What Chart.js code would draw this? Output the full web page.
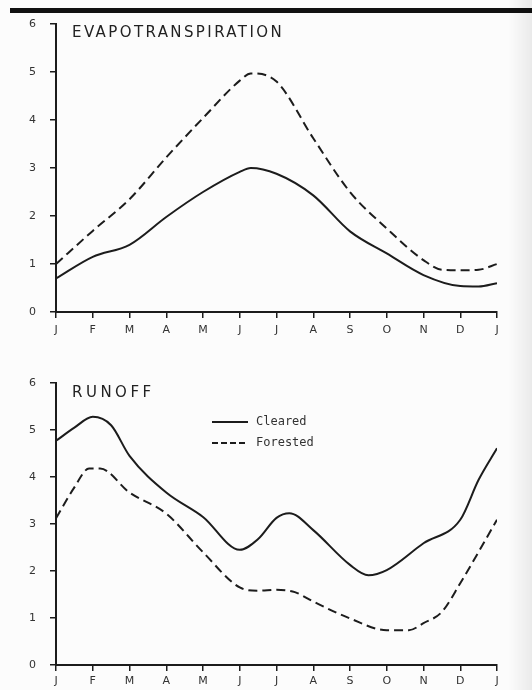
<!DOCTYPE html>
<html>
<head>
<meta charset="utf-8">
<script src="https://cdn.jsdelivr.net/npm/chart.js@4.4.1/dist/chart.umd.min.js"></script>
<style>
  body { margin: 0; background: #fcfcfc; }
  #page { position: relative; width: 532px; height: 690px; overflow: hidden; background: #fcfcfc; }
  .topbar { position: absolute; left: 10px; top: 8px; width: 522px; height: 5px; background: #111; }
  .edge { position: absolute; right: 0; top: 0; width: 24px; height: 690px;
          background: linear-gradient(to right, rgba(0,0,0,0), rgba(0,0,0,0.07)); }
  .title { position: absolute; font-family: 'DejaVu Sans'; font-size: 15px; line-height: 15px; color: #222; }
  canvas { position: absolute; left: 0; }
</style>
</head>
<body>
<div id="page">
  <div class="topbar"></div>
  <canvas id="etChart" style="top:0px" width="532" height="345"></canvas>
  <canvas id="roChart" style="top:360px" width="532" height="330"></canvas>
  <div class="title" style="left:72px; top:25px; letter-spacing:2.4px">EVAPOTRANSPIRATION</div>
  <div class="title" style="left:72px; top:385px; letter-spacing:3.5px">RUNOFF</div>
  <div class="edge"></div>
</div>
<script>
const months = ['J', 'F', 'M', 'A', 'M', 'J', 'J', 'A', 'S', 'O', 'N', 'D', 'J'];
const yTicks = [0, 1, 2, 3, 4, 5, 6];
const seriesNames = ['Cleared', 'Forested'];

// evapotranspiration (month position, value)
const etClearedX = [0, 1, 2, 3, 4, 5, 5.3, 6, 7, 8, 9, 10, 11, 11.5, 12];
const etClearedY = [0.7, 1.15, 1.4, 1.98, 2.5, 2.92, 3.0, 2.88, 2.43, 1.68, 1.22, 0.77, 0.54, 0.53, 0.6];
const etForestedX = [0, 1, 2, 3, 4, 5, 5.3, 6, 7, 8, 9, 10, 10.5, 11, 11.5, 12];
const etForestedY = [1.0, 1.69, 2.35, 3.22, 4.04, 4.82, 4.97, 4.8, 3.62, 2.5, 1.74, 1.08, 0.88, 0.87, 0.88, 1.0];

// runoff
const roClearedX = [0, 0.5, 1, 1.5, 2, 3, 4, 5, 5.5, 6, 6.35, 7, 8, 8.5, 9, 10, 11, 11.5, 12];
const roClearedY = [4.77, 5.05, 5.28, 5.1, 4.45, 3.67, 3.15, 2.45, 2.68, 3.13, 3.23, 2.87, 2.13, 1.91, 2.02, 2.59, 3.09, 3.94, 4.61];
const roForestedX = [0, 0.5, 0.9, 1.2, 2, 3, 4, 5, 5.5, 6, 6.5, 7, 8, 9, 9.6, 10, 10.5, 11, 12];
const roForestedY = [3.12, 3.78, 4.18, 4.18, 3.67, 3.22, 2.4, 1.65, 1.58, 1.6, 1.55, 1.35, 0.99, 0.74, 0.74, 0.89, 1.13, 1.74, 3.09];

const ink = '#1c1c1c';
const tickFont = { family: 'DejaVu Sans', size: 11 };

function pts(xs, ys) {
  return xs.map((x, i) => ({ x: x, y: ys[i] }));
}

function makeDatasets(cx, cy, fx, fy) {
  return [
    { label: seriesNames[0], data: pts(cx, cy), borderColor: ink, borderWidth: 2,
      pointRadius: 0, cubicInterpolationMode: 'monotone', fill: false },
    { label: seriesNames[1], data: pts(fx, fy), borderColor: ink, borderWidth: 2, borderDash: [9, 5],
      pointRadius: 0, cubicInterpolationMode: 'monotone', fill: false }
  ];
}

// small legend drawn inside the runoff plot
const inlineLegend = {
  id: 'inlineLegend',
  afterDraw(chart, args, opts) {
    if (!opts.show) return;
    const ctx = chart.ctx;
    chart.data.datasets.forEach((ds, i) => {
      const y = opts.y + i * opts.gap;
      ctx.save();
      ctx.strokeStyle = ds.borderColor;
      ctx.lineWidth = 2;
      ctx.setLineDash(ds.borderDash ? [6, 3] : []);
      ctx.beginPath();
      ctx.moveTo(opts.x, y);
      ctx.lineTo(opts.x + 36, y);
      ctx.stroke();
      ctx.setLineDash([]);
      ctx.fillStyle = '#333';
      ctx.font = '12px "DejaVu Sans Mono"';
      ctx.textBaseline = 'middle';
      ctx.fillText(ds.label, opts.x + 44, y);
      ctx.restore();
    });
  }
};

function makeOptions(padTop, xHeight, xPad, legend) {
  return {
    responsive: false,
    animation: false,
    layout: { padding: { top: padTop, right: 35, left: 0, bottom: 0 } },
    plugins: { legend: { display: false }, tooltip: { enabled: false }, inlineLegend: legend },
    scales: {
      x: {
        type: 'linear', min: 0, max: 12,
        afterBuildTicks: s => { s.ticks = months.map((m, i) => ({ value: i })); },
        afterFit: s => { s.height = xHeight; },
        ticks: { callback: (v, i) => months[i], font: tickFont, color: '#333', padding: xPad,
                 maxRotation: 0, autoSkip: false },
        grid: { drawOnChartArea: false, tickLength: 6, color: ink, lineWidth: 1.5 },
        border: { color: ink, width: 2 }
      },
      y: {
        min: 0, max: 6,
        afterBuildTicks: s => { s.ticks = yTicks.map(v => ({ value: v })); },
        afterFit: s => { s.width = 56; },
        ticks: { font: tickFont, color: '#333', padding: 14 },
        grid: { drawOnChartArea: false, tickLength: 6, color: ink, lineWidth: 1.5 },
        border: { color: ink, width: 2 }
      }
    }
  };
}

new Chart(document.getElementById('etChart'), {
  type: 'line',
  data: { datasets: makeDatasets(etClearedX, etClearedY, etForestedX, etForestedY) },
  options: makeOptions(24, 33, 6, { show: false }),
  plugins: [inlineLegend]
});

new Chart(document.getElementById('roChart'), {
  type: 'line',
  data: { datasets: makeDatasets(roClearedX, roClearedY, roForestedX, roForestedY) },
  options: makeOptions(23, 25, 4, { show: true, x: 212, y: 62, gap: 21 }),
  plugins: [inlineLegend]
});
</script>
</body>
</html>
